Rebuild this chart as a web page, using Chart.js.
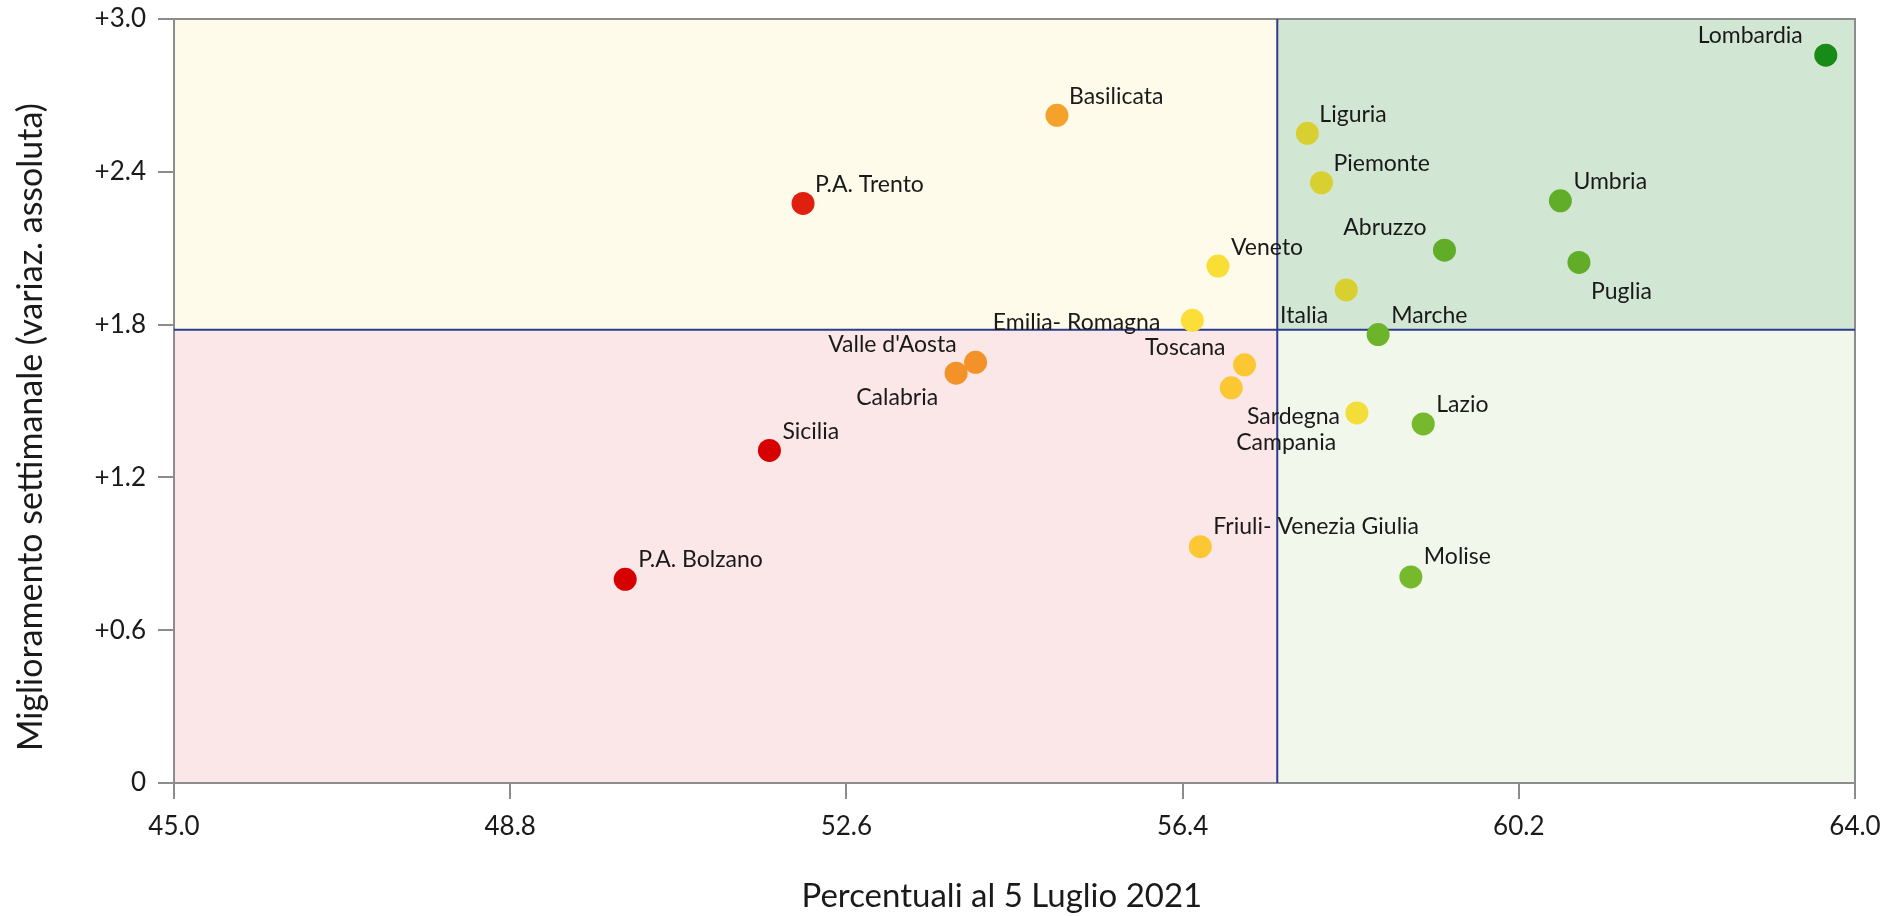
<!DOCTYPE html>
<html>
<head>
<meta charset="utf-8">
<script src="https://cdn.jsdelivr.net/npm/chart.js@4.4.1/dist/chart.umd.min.js"></script>
<style>
  html, body { margin: 0; padding: 0; background: #fff; }
  #wrap { width: 1885px; height: 916px; }
</style>
</head>
<body>
<div id="wrap"><canvas id="chart"></canvas></div>
<script>
// Data
const regions = ["Lombardia", "Basilicata", "P.A. Trento", "Liguria", "Piemonte", "Umbria",
  "Abruzzo", "Veneto", "Puglia", "Italia", "Emilia- Romagna", "Marche", "Valle d'Aosta",
  "Calabria", "Toscana", "Campania", "Sardegna", "Lazio", "Sicilia",
  "Friuli- Venezia Giulia", "Molise", "P.A. Bolzano"];
const percentuali = [63.67, 54.98, 52.11, 57.81, 57.97, 60.67,
  59.36, 56.80, 60.88, 58.25, 56.51, 58.61, 54.06,
  53.84, 57.10, 56.95, 58.37, 59.12, 51.73,
  56.60, 58.98, 50.10];
const miglioramento = [2.858, 2.622, 2.276, 2.551, 2.357, 2.286,
  2.092, 2.030, 2.044, 1.936, 1.817, 1.761, 1.652,
  1.609, 1.642, 1.552, 1.453, 1.410, 1.306,
  0.928, 0.809, 0.800];
const xTicks = [45.0, 48.8, 52.6, 56.4, 60.2, 64.0];
const yTicks = [0, 0.6, 1.2, 1.8, 2.4, 3.0];
const xDivider = 57.47;
const yDivider = 1.78;

// Styles
const pointColors = ["#178a17", "#f4a22c", "#e0200e", "#d8cf30", "#d8cf30", "#62ad28",
  "#62ad28", "#f8de35", "#62ad28", "#d8cf30", "#fbdf38", "#6cb52a", "#f39229",
  "#f39229", "#fbc833", "#fbc833", "#f3dd38", "#77b92c", "#d60000",
  "#fbc833", "#77b92c", "#d60000"];
// [align, dx, dy] for each label, in pixels from the point
const labelPlacement = [["right", -23, -20], ["left", 12, -19], ["left", 12, -19], ["left", 12, -19],
  ["left", 12, -19], ["left", 13, -19], ["right", -18, -23], ["left", 13, -18], ["left", 12, 29],
  ["right", -18, 26], ["right", -32, 2], ["left", 13, -19], ["right", -19, -18],
  ["right", -18, 24], ["right", -19, -17], ["left", 5, 55], ["right", -17, 4], ["left", 13, -19],
  ["left", 13, -19], ["left", 13, -20], ["left", 13, -20], ["left", 13, -20]];

const axisGrey = "#8c8c8c";
const textColor = "#1a1a1a";

const quadrantPlugin = {
  id: "quadrants",
  beforeDraw(chart) {
    const { ctx, chartArea: a, scales: { x, y } } = chart;
    const xd = x.getPixelForValue(xDivider);
    const yd = y.getPixelForValue(yDivider);
    ctx.save();
    ctx.fillStyle = "#fefbea";
    ctx.fillRect(a.left, a.top, xd - a.left, yd - a.top);
    ctx.fillStyle = "#fbe6e8";
    ctx.fillRect(a.left, yd, xd - a.left, a.bottom - yd);
    ctx.fillStyle = "#d2e7d3";
    ctx.fillRect(xd, a.top, a.right - xd, yd - a.top);
    ctx.fillStyle = "#f1f7eb";
    ctx.fillRect(xd, yd, a.right - xd, a.bottom - yd);
    ctx.restore();
  },
  beforeDatasetsDraw(chart) {
    const { ctx, chartArea: a, scales: { x, y } } = chart;
    const xd = x.getPixelForValue(xDivider);
    const yd = y.getPixelForValue(yDivider);
    ctx.save();
    // frame on top and right
    ctx.strokeStyle = axisGrey;
    ctx.lineWidth = 2;
    ctx.beginPath();
    ctx.moveTo(a.left, a.top);
    ctx.lineTo(a.right, a.top);
    ctx.lineTo(a.right, a.bottom);
    ctx.stroke();
    // dividers
    ctx.strokeStyle = "#2e3c8c";
    ctx.lineWidth = 2;
    ctx.beginPath();
    ctx.moveTo(a.left, yd);
    ctx.lineTo(a.right, yd);
    ctx.moveTo(xd, a.top);
    ctx.lineTo(xd, a.bottom);
    ctx.stroke();
    ctx.restore();
  },
  afterDatasetsDraw(chart) {
    const { ctx } = chart;
    const meta = chart.getDatasetMeta(0);
    ctx.save();
    ctx.font = "23px Lato";
    ctx.fillStyle = textColor;
    ctx.textBaseline = "middle";
    meta.data.forEach((pt, i) => {
      const [align, dx, dy] = labelPlacement[i];
      ctx.textAlign = align;
      ctx.fillText(regions[i], pt.x + dx, pt.y + dy);
    });
    ctx.restore();
  }
};

const ctx = document.getElementById("chart").getContext("2d");
new Chart(ctx, {
  type: "scatter",
  data: {
    datasets: [{
      data: percentuali.map((v, i) => ({ x: v, y: miglioramento[i] })),
      pointBackgroundColor: pointColors,
      pointBorderWidth: 0,
      pointRadius: 11.5,
      pointHoverRadius: 11.5
    }]
  },
  options: {
    responsive: true,
    maintainAspectRatio: false,
    animation: false,
    events: [],
    layout: { padding: { top: 19, right: 30, left: 0, bottom: 0 } },
    plugins: { legend: { display: false }, tooltip: { enabled: false } },
    scales: {
      x: {
        type: "linear",
        min: 45,
        max: 64,
        afterBuildTicks: s => { s.ticks = xTicks.map(v => ({ value: v })); },
        afterFit: s => { s.height = 133; s.paddingLeft = 0; s.paddingRight = 0; },
        border: { display: true, color: axisGrey, width: 2 },
        grid: { drawOnChartArea: false, drawTicks: true, tickLength: 16, color: axisGrey, lineWidth: 2 },
        ticks: {
          padding: 12,
          color: textColor,
          font: { family: "Lato", size: 26 },
          maxRotation: 0,
          callback: v => v.toFixed(1)
        },
        title: {
          display: true,
          text: "Percentuali al 5 Luglio 2021   ",
          color: textColor,
          font: { family: "Lato", size: 33 },
          padding: { top: 1, bottom: 0 }
        }
      },
      y: {
        type: "linear",
        min: 0,
        max: 3,
        afterBuildTicks: s => { s.ticks = yTicks.map(v => ({ value: v })); },
        afterFit: s => { s.width = 174; s.paddingTop = 0; s.paddingBottom = 0; },
        border: { display: true, color: axisGrey, width: 2 },
        grid: { drawOnChartArea: false, drawTicks: true, tickLength: 16, color: axisGrey, lineWidth: 2 },
        ticks: {
          padding: 12,
          color: textColor,
          font: { family: "Lato", size: 26 },
          callback: v => v === 0 ? "0" : "+" + v.toFixed(1)
        },
        title: {
          display: true,
          text: "Miglioramento settimanale (variaz. assoluta)      ",
          color: textColor,
          font: { family: "Lato", size: 34 },
          padding: { top: 11, bottom: 0 }
        }
      }
    }
  },
  plugins: [quadrantPlugin]
});
</script>
</body>
</html>
